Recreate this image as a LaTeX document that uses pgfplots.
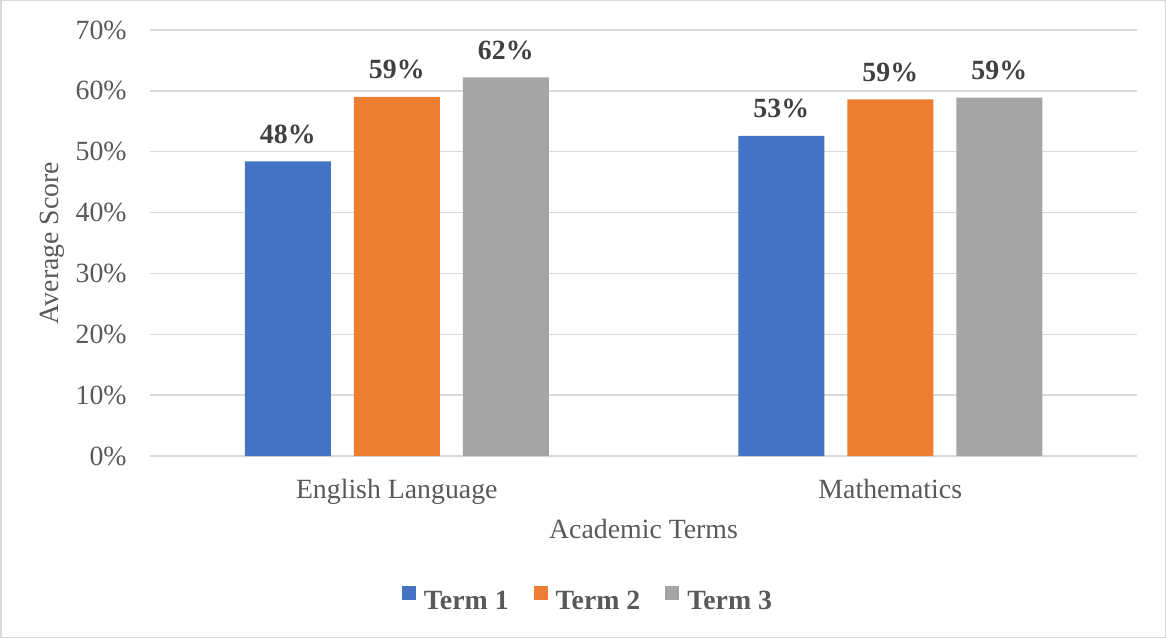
\documentclass[border=0pt]{standalone}
\usepackage{fontspec}
\setmainfont{Liberation Serif}
\usepackage{pgfplots}
\pgfplotsset{compat=1.18}
\definecolor{c1}{HTML}{4472C4}
\definecolor{c2}{HTML}{ED7D31}
\definecolor{c3}{HTML}{A5A5A5}
\definecolor{gridc}{HTML}{D9D9D9}
\definecolor{txt}{HTML}{595959}
\definecolor{lbl}{HTML}{404040}
\begin{document}
\begin{tikzpicture}[font=\fontsize{13.9}{16}\selectfont]
\useasboundingbox (0,0) rectangle (583pt,319pt);
\draw[gridc, line width=0.75pt] (0.375pt,0.375pt) rectangle (582.625pt,318.625pt);
\begin{axis}[
  at={(75pt,91pt)}, anchor=south west,
  scale only axis, width=493.5pt, height=213pt,
  ybar=11.5pt, bar width=43pt,
  xmin=-0.5, xmax=1.5, ymin=0, ymax=70,
  xtick={0,1}, xticklabels={English Language, Mathematics},
  ytick={0,10,...,70},
  ymajorgrids, grid style={gridc, line width=0.75pt},
  axis line style={draw=none},
  major tick length=0,
  /pgf/number format/assume math mode=true,
  yticklabel={\pgfmathprintnumber{\tick}\%},
  yticklabel style={anchor=east, inner sep=0, xshift=-11.5pt, text=txt},
  xticklabel style={anchor=base, inner sep=0, yshift=-21pt, text=txt},
  ylabel={Average Score}, xlabel={Academic Terms},
  ylabel style={at={([xshift=-49pt]axis description cs:0,0.5)}, anchor=center, text=txt},
  xlabel style={at={([yshift=-41pt]axis description cs:0.5,0)}, anchor=base, inner sep=0, text=txt},
  nodes near coords={\pgfmathprintnumber[fixed,precision=0]{\pgfplotspointmeta}\%},
  nodes near coords style={anchor=base, inner sep=0, yshift=9pt, font=\fontsize{13.9}{16}\selectfont\bfseries, text=lbl},
  legend columns=-1,
  legend style={at={(axis description cs:0.2553,-0.3404)}, anchor=west, draw=none, fill=none, inner sep=0, outer sep=0,
    font=\fontsize{13.9}{16}\selectfont\bfseries, text=txt,
    /tikz/every even column/.append style={column sep=10.5pt}},
  legend image code/.code={\fill[#1] (0pt,1pt) rectangle (7pt,8pt); \path (9pt,1pt);},
]
\addplot[fill=c1, draw=none] coordinates {(0,48.4) (1,52.6)};
\addplot[fill=c2, draw=none] coordinates {(0,59.0) (1,58.6)};
\addplot[fill=c3, draw=none] coordinates {(0,62.2) (1,58.9)};
\legend{Term 1, Term 2, Term 3}
\end{axis}
\end{tikzpicture}
\end{document}
